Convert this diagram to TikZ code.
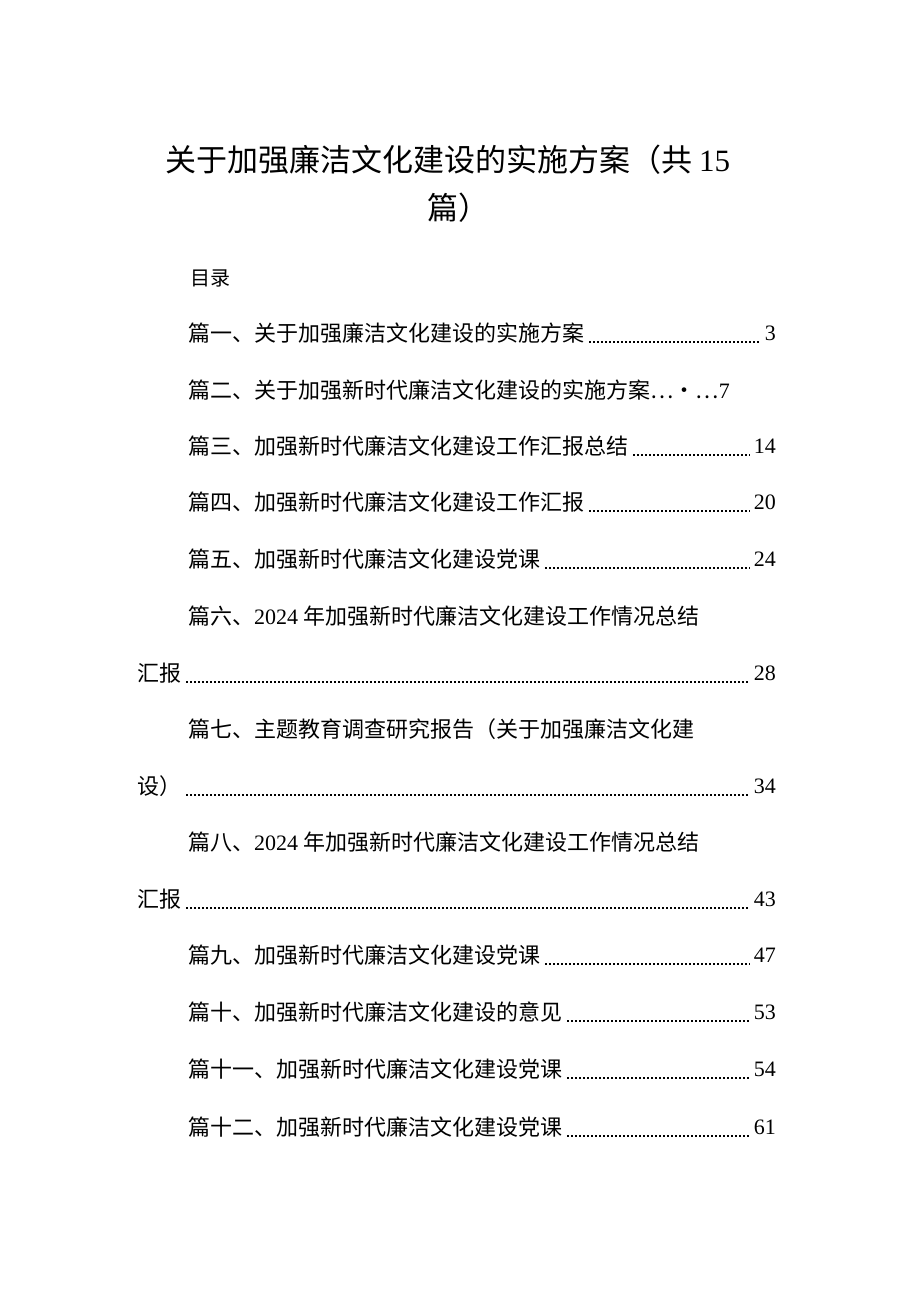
\documentclass[tikz,border=0pt]{standalone}
\usepackage{fontspec}
\newfontfamily\cjk{Noto Sans CJK SC}
\newfontfamily\numf{Liberation Serif}
\tikzset{
  title/.style={font=\cjk\fontsize{31}{31}\selectfont, inner sep=0pt},
  entry/.style={font=\cjk\fontsize{22}{22}\selectfont, anchor=west, inner sep=0pt},
  pagenum/.style={font=\numf\fontsize{22}{22}\selectfont, anchor=east, inner sep=0pt},
  leader/.style={line width=1.4pt, dash pattern=on 1.4pt off 2.6pt}
}
\begin{document}
\begin{tikzpicture}[x=1pt, y=-1pt]
\useasboundingbox (0,0) rectangle (920,1301);
% title
\node[title, anchor=west] (head1) at (165,160) {关于加强廉洁文化建设的实施方案（共 {\numf 15}};
\node[title] (head2) at (458,208) {篇）};
\node[entry, font=\cjk\fontsize{20}{20}\selectfont] (toc) at (190,278) {目录};
% one-line entries
\foreach \name/\y/\txt/\num in {
  e1/333/篇一、关于加强廉洁文化建设的实施方案/3,
  e3/446/篇三、加强新时代廉洁文化建设工作汇报总结/14,
  e4/502/篇四、加强新时代廉洁文化建设工作汇报/20,
  e5/559/篇五、加强新时代廉洁文化建设党课/24,
  e9/955/篇九、加强新时代廉洁文化建设党课/47,
  e10/1012/篇十、加强新时代廉洁文化建设的意见/53,
  e11/1069/篇十一、加强新时代廉洁文化建设党课/54,
  e12/1127/篇十二、加强新时代廉洁文化建设党课/61}{
  \node[entry] (\name) at (188,\y) {\txt};
  \node[pagenum] (\name n) at (776,\y) {\num};
  \draw[leader] ([xshift=5pt, yshift=-9pt]\name.east) -- ([xshift=-4pt, yshift=-9pt]\name n.west);
}
\node[entry] (e2) at (188,390) {篇二、关于加强新时代廉洁文化建设的实施方案…•…{\numf 7}};
% wrapped entries
\foreach \name/\y/\txt/\tail/\num in {
  e6/616/篇六、{\numf 2024} 年加强新时代廉洁文化建设工作情况总结/汇报/28,
  e7/729/篇七、主题教育调查研究报告（关于加强廉洁文化建/设）/34,
  e8/842/篇八、{\numf 2024} 年加强新时代廉洁文化建设工作情况总结/汇报/43}{
  \node[entry] (\name) at (188,\y) {\txt};
  \node[entry] (\name b) at (137,\y+57) {\tail};
  \node[pagenum] (\name n) at (776,\y+57) {\num};
  \draw[leader] ([xshift=5pt, yshift=-9pt]\name b.east) -- ([xshift=-4pt, yshift=-9pt]\name n.west);
}
\end{tikzpicture}
\end{document}
